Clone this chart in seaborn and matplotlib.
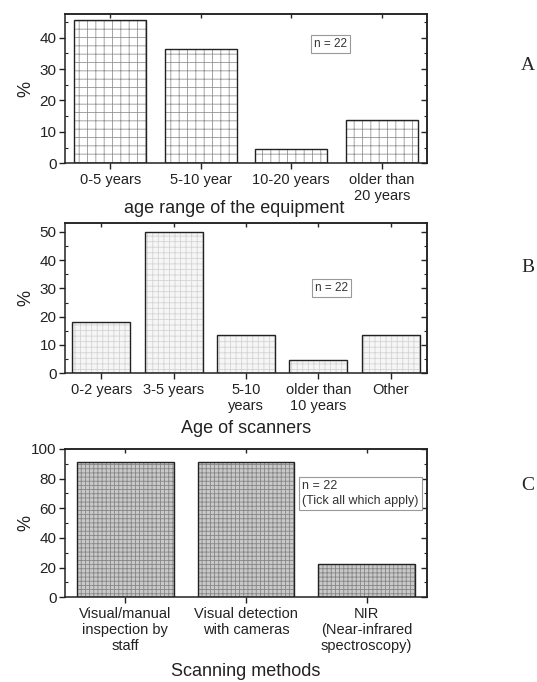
import pandas as pd
import matplotlib
matplotlib.use("Agg")
import matplotlib.pyplot as plt
from matplotlib.ticker import MultipleLocator
import seaborn as sns

# Data (percent of respondents, n = 22)
equip_age = ["0-5 years", "5-10 year", "10-20 years", "older than\n20 years"]
equip_pct = [45.45, 36.36, 4.55, 13.64]

scanner_age = ["0-2 years", "3-5 years", "5-10\nyears", "older than\n10 years", "Other"]
scanner_pct = [18.18, 50.0, 13.64, 4.55, 13.64]

methods = ["Visual/manual\ninspection by\nstaff", "Visual detection\nwith cameras",
           "NIR\n(Near-infrared\nspectroscopy)"]
methods_pct = [90.91, 90.91, 22.73]

sns.set_style("ticks")
plt.rcParams["font.family"] = ["Liberation Sans", "DejaVu Sans"]
plt.rcParams["hatch.linewidth"] = 0.6
plt.rcParams["axes.linewidth"] = 1.1

fig = plt.figure(figsize=(5.37, 6.82), dpi=100)

W, H = 537, 682


def axes_px(left, top, right, bottom):
    return fig.add_axes([left / W, 1 - bottom / H, (right - left) / W, (bottom - top) / H])


panels = [
    dict(box=(65, 14, 427, 163.3), cats=equip_age, vals=equip_pct, ylim=47.5, major=10, minor=5,
         face="white", hcol="#959595", hatch="++", xlabel="age range of the equipment",
         xl_pos=(0.467, -0.245), note="n = 22", note_pos=(0.688, 0.80), note_size=8.5,
         letter="A", letter_y=65),
    dict(box=(65, 223.3, 427, 373.3), cats=scanner_age, vals=scanner_pct, ylim=53, major=10, minor=5,
         face="#f6f6f6", hcol="#d4d4d4", hatch="+++", xlabel="Age of scanners",
         xl_pos=(0.5, -0.31), note="n = 22", note_pos=(0.69, 0.566), note_size=8.5,
         letter="B", letter_y=268),
    dict(box=(65, 449, 427, 597.3), cats=methods, vals=methods_pct, ylim=100, major=20, minor=10,
         face="#c9c9c9", hcol="#868686", hatch="++++", xlabel="Scanning methods",
         xl_pos=(0.5, -0.44), note="n = 22\n(Tick all which apply)", note_pos=(0.655, 0.70),
         note_size=9, letter="C", letter_y=485),
]

for p in panels:
    ax = axes_px(*p["box"])
    df = pd.DataFrame({"cat": p["cats"], "pct": p["vals"]})
    # hatched fill, then a black outline on top
    sns.barplot(data=df, x="cat", y="pct", ax=ax, color=p["face"], edgecolor=p["hcol"],
                linewidth=0, hatch=p["hatch"], saturation=1, width=0.8)
    sns.barplot(data=df, x="cat", y="pct", ax=ax, color="#222222", fill=False,
                linewidth=1.0, saturation=1, width=0.8)
    ax.set_ylim(0, p["ylim"])
    ax.set_xlim(-0.5, len(p["cats"]) - 0.5)
    ax.yaxis.set_major_locator(MultipleLocator(p["major"]))
    ax.yaxis.set_minor_locator(MultipleLocator(p["minor"]))
    for s in ax.spines.values():
        s.set_visible(True)
        s.set_color("#222222")
    ax.tick_params(axis="x", which="major", direction="out", length=4, width=1,
                   labelsize=10.5, pad=3, colors="#222222")
    ax.tick_params(axis="y", which="major", direction="out", length=4, width=1,
                   labelsize=11, pad=2, colors="#222222")
    ax.tick_params(axis="y", which="minor", direction="in", length=2, width=0.8)
    ax.set_xlabel(p["xlabel"], fontsize=13, color="#222222")
    ax.xaxis.set_label_coords(*p["xl_pos"])
    ax.set_ylabel("%", fontsize=13, color="#222222")
    ax.yaxis.set_label_coords(-0.085, 0.5)

    # mirrored inward ticks on top and right
    top = ax.secondary_xaxis("top")
    top.set_xticks(range(len(p["cats"])))
    top.tick_params(direction="in", length=3, width=1, labeltop=False)
    right = ax.secondary_yaxis("right")
    right.yaxis.set_major_locator(MultipleLocator(p["major"]))
    right.yaxis.set_minor_locator(MultipleLocator(p["minor"]))
    right.tick_params(which="major", direction="in", length=4, width=1, labelright=False)
    right.tick_params(which="minor", direction="in", length=2, width=0.8)

    ax.text(p["note_pos"][0], p["note_pos"][1], p["note"], transform=ax.transAxes,
            fontsize=p["note_size"], color="#333333", ha="left", va="center",
            linespacing=1.3,
            bbox=dict(boxstyle="square,pad=0.25", fc="white", ec="#999999", lw=0.8))

    fig.text(528 / W, 1 - p["letter_y"] / H, p["letter"], fontsize=14,
             family=["Liberation Serif", "DejaVu Serif"], ha="center", va="center")

fig.savefig("out.png", dpi=100)
